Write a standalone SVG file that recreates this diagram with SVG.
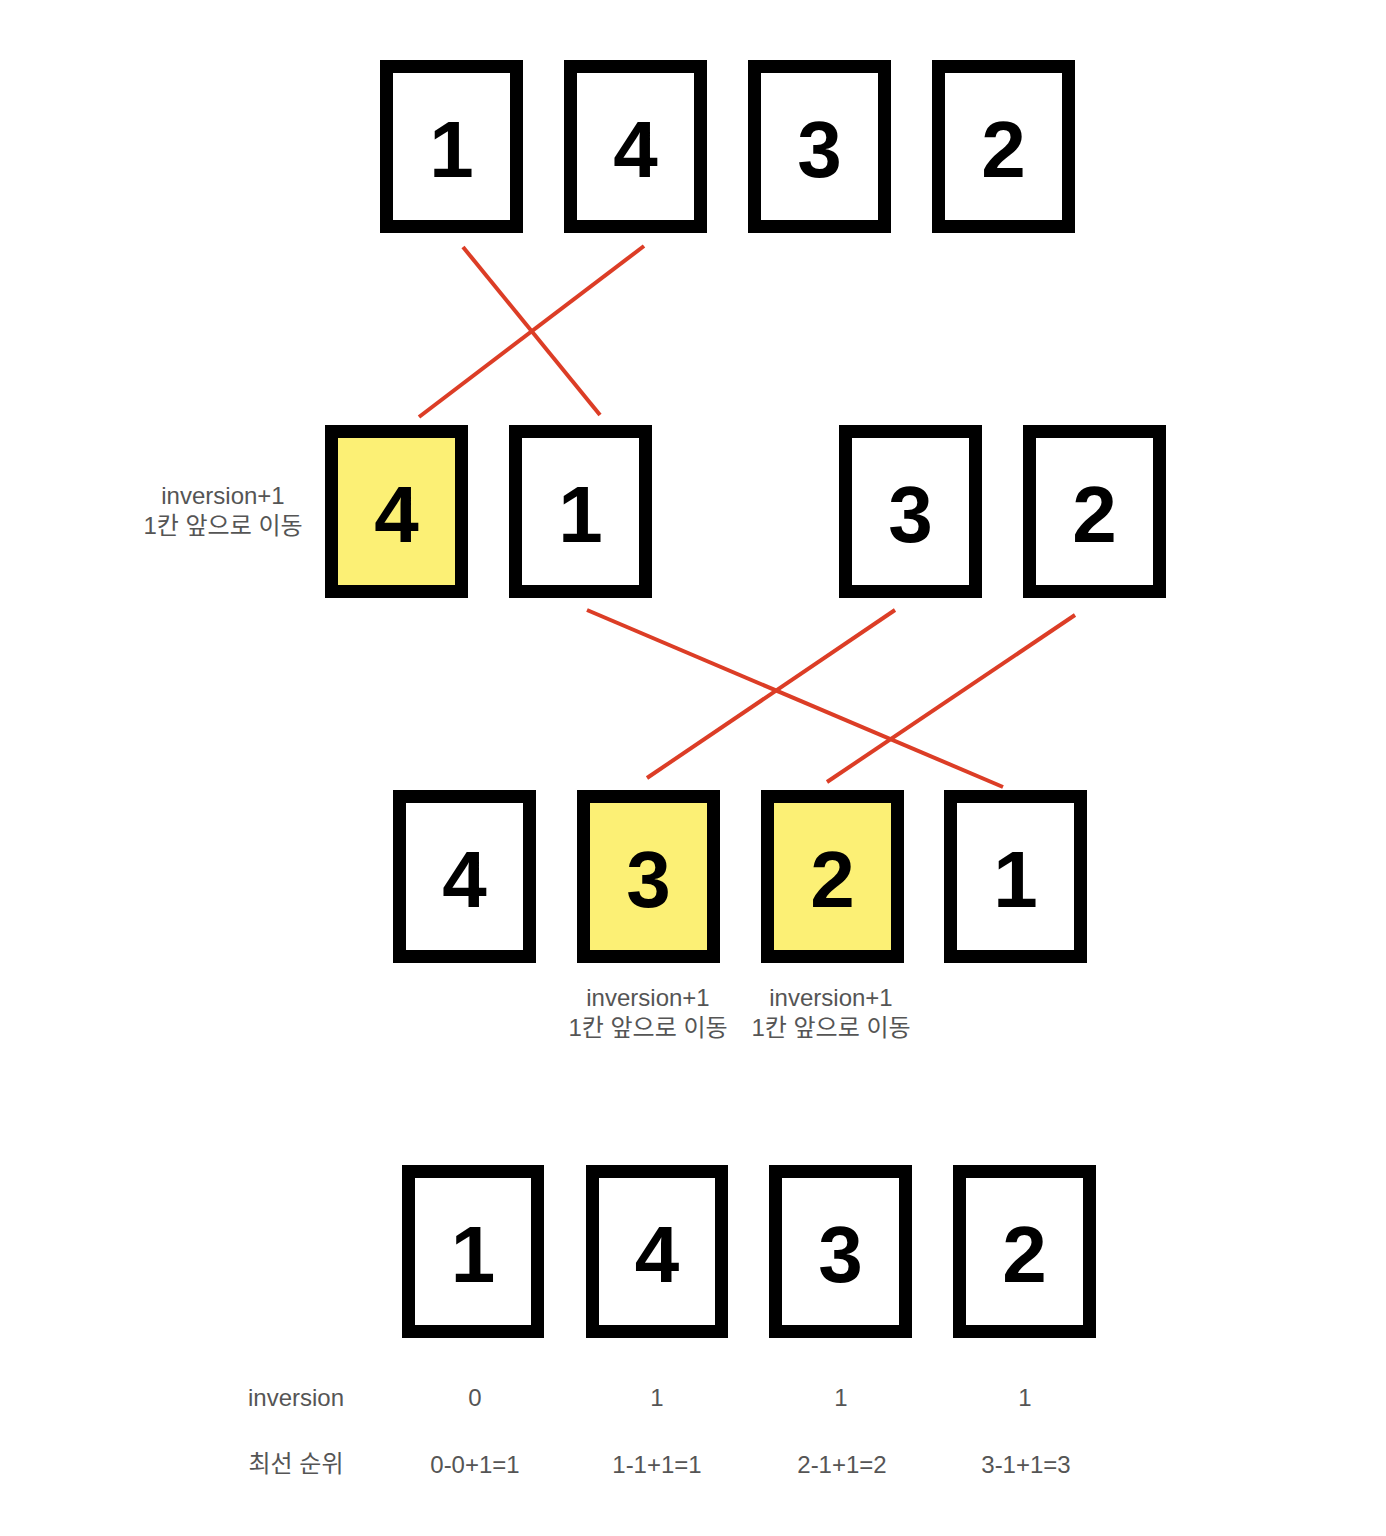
<svg xmlns="http://www.w3.org/2000/svg" width="1386" height="1536" viewBox="0 0 1386 1536">
<style>
.box{fill:#fff;stroke:#000;stroke-width:13}
.hl{fill:#fcf075}
.num{font-family:"Liberation Sans",Arial,sans-serif;font-size:80px;font-weight:bold;fill:#000;text-anchor:middle}
.lbl{font-family:"Liberation Sans","Noto Sans CJK KR",sans-serif;font-size:24px;fill:#555;text-anchor:middle}
.ln{stroke:#dc3d26;stroke-width:4;fill:none}
</style>
<rect width="1386" height="1536" fill="#fff"/>
<g id="row1">
<g id="r1-1"><rect class="box" x="386.5" y="66.5" width="130" height="160"/><text class="num" x="451.5" y="177">1</text></g>
<g id="r1-4"><rect class="box" x="570.5" y="66.5" width="130" height="160"/><text class="num" x="635.5" y="177">4</text></g>
<g id="r1-3"><rect class="box" x="754.5" y="66.5" width="130" height="160"/><text class="num" x="819.5" y="177">3</text></g>
<g id="r1-2"><rect class="box" x="938.5" y="66.5" width="130" height="160"/><text class="num" x="1003.5" y="177">2</text></g>
</g>
<g id="row2">
<g id="r2-4"><rect class="box hl" x="331.5" y="431.5" width="130" height="160"/><text class="num" x="396.5" y="542">4</text></g>
<g id="r2-1"><rect class="box" x="515.5" y="431.5" width="130" height="160"/><text class="num" x="580.5" y="542">1</text></g>
<g id="r2-3"><rect class="box" x="845.5" y="431.5" width="130" height="160"/><text class="num" x="910.5" y="542">3</text></g>
<g id="r2-2"><rect class="box" x="1029.5" y="431.5" width="130" height="160"/><text class="num" x="1094.5" y="542">2</text></g>
<g id="r2-label"><text class="lbl" x="223" y="504">inversion+1</text><text class="lbl" x="223" y="534">1칸 앞으로 이동</text></g>
</g>
<g id="row3">
<g id="r3-4"><rect class="box" x="399.5" y="796.5" width="130" height="160"/><text class="num" x="464.5" y="907">4</text></g>
<g id="r3-3"><rect class="box hl" x="583.5" y="796.5" width="130" height="160"/><text class="num" x="648.5" y="907">3</text></g>
<g id="r3-2"><rect class="box hl" x="767.5" y="796.5" width="130" height="160"/><text class="num" x="832.5" y="907">2</text></g>
<g id="r3-1"><rect class="box" x="950.5" y="796.5" width="130" height="160"/><text class="num" x="1015.5" y="907">1</text></g>
<g id="r3-label3"><text class="lbl" x="648" y="1006">inversion+1</text><text class="lbl" x="648" y="1036">1칸 앞으로 이동</text></g>
<g id="r3-label2"><text class="lbl" x="831" y="1006">inversion+1</text><text class="lbl" x="831" y="1036">1칸 앞으로 이동</text></g>
</g>
<g id="row4">
<g id="r4-1"><rect class="box" x="408.5" y="1171.5" width="129" height="160"/><text class="num" x="473" y="1282">1</text></g>
<g id="r4-4"><rect class="box" x="592.5" y="1171.5" width="129" height="160"/><text class="num" x="657" y="1282">4</text></g>
<g id="r4-3"><rect class="box" x="775.5" y="1171.5" width="130" height="160"/><text class="num" x="840.5" y="1282">3</text></g>
<g id="r4-2"><rect class="box" x="959.5" y="1171.5" width="130" height="160"/><text class="num" x="1024.5" y="1282">2</text></g>
</g>
<g id="table">
<text class="lbl" x="296" y="1406">inversion</text>
<text class="lbl" x="475" y="1406">0</text>
<text class="lbl" x="657" y="1406">1</text>
<text class="lbl" x="841" y="1406">1</text>
<text class="lbl" x="1025" y="1406">1</text>
<text class="lbl" x="296" y="1472">최선 순위</text>
<text class="lbl" x="475" y="1473">0-0+1=1</text>
<text class="lbl" x="657" y="1473">1-1+1=1</text>
<text class="lbl" x="842" y="1473">2-1+1=2</text>
<text class="lbl" x="1026" y="1473">3-1+1=3</text>
</g>
<g id="connectors">
<line class="ln" x1="463" y1="247" x2="600" y2="415"/>
<line class="ln" x1="644" y1="246" x2="419" y2="417"/>
<line class="ln" x1="587" y1="610" x2="1003" y2="787"/>
<line class="ln" x1="895" y1="610" x2="647" y2="778"/>
<line class="ln" x1="1075" y1="615" x2="827" y2="782"/>
</g>
</svg>
